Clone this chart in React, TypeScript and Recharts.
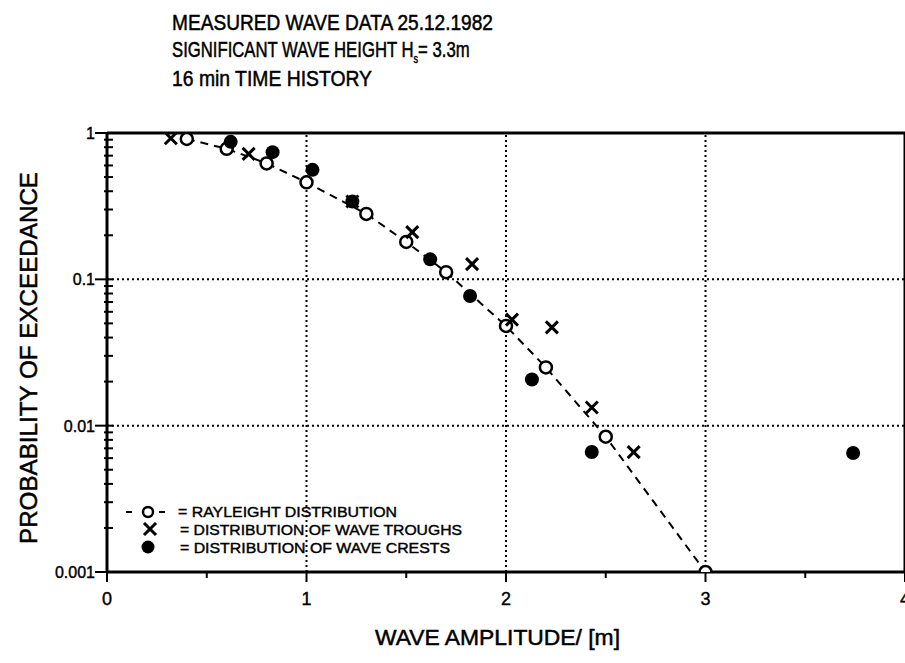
import { ScatterChart, Scatter, XAxis, YAxis, ReferenceLine } from 'recharts';

// Rayleigh distribution (open circles, dashed line)
const rayleighAmp = [0.4, 0.6, 0.8, 1.0, 1.3, 1.5, 1.7, 2.0, 2.2, 2.5, 3.0];
const rayleighProb = [0.91, 0.78, 0.62, 0.46, 0.28, 0.18, 0.112, 0.048, 0.025, 0.0084, 0.001];

// wave troughs (crosses)
const troughAmp = [0.32, 0.71, 1.23, 1.53, 1.83, 2.03, 2.23, 2.43, 2.64];
const troughProb = [0.92, 0.72, 0.34, 0.21, 0.127, 0.053, 0.047, 0.0133, 0.0066];

// wave crests (filled dots)
const crestAmp = [0.62, 0.83, 1.03, 1.23, 1.62, 1.82, 2.13, 2.43, 3.74];
const crestProb = [0.87, 0.74, 0.56, 0.34, 0.137, 0.077, 0.0207, 0.0066, 0.0065];

const xTicks = [0, 0.5, 1, 1.5, 2, 2.5, 3, 3.5, 4];
const xMajor = [0, 1, 2, 3, 4];
const yTicks = [
  0.001, 0.002, 0.003, 0.004, 0.005, 0.006, 0.007, 0.008, 0.009,
  0.01, 0.02, 0.03, 0.04, 0.05, 0.06, 0.07, 0.08, 0.09,
  0.1, 0.2, 0.3, 0.4, 0.5, 0.6, 0.7, 0.8, 0.9, 1,
];
const yMajor = [0.001, 0.01, 0.1, 1];
const yLabels = ['0.001', '0.01', '0.1', '1'];
const xGrid = [1, 2, 3];
const yGrid = [0.01, 0.1];

const toPoints = (xs: number[], ys: number[]) => xs.map((x, i) => ({ x, y: ys[i] }));
const rayleigh = toPoints(rayleighAmp, rayleighProb);
const troughs = toPoints(troughAmp, troughProb);
const crests = toPoints(crestAmp, crestProb);

const FONT = '"Liberation Sans", Arial, sans-serif';

const OpenCircle = (p: any) => (
  <circle cx={p.cx} cy={p.cy} r={6} fill="#fff" stroke="#000" strokeWidth={2.5} />
);
const Cross = (p: any) => (
  <g stroke="#000" strokeWidth={3}>
    <line x1={p.cx - 6} y1={p.cy - 6} x2={p.cx + 6} y2={p.cy + 6} />
    <line x1={p.cx - 6} y1={p.cy + 6} x2={p.cx + 6} y2={p.cy - 6} />
  </g>
);
const Dot = (p: any) => <circle cx={p.cx} cy={p.cy} r={7} fill="#000" />;

const LeftTick = ({ x, y, payload }: any) => {
  const idx = yMajor.indexOf(payload.value);
  const major = idx >= 0;
  return (
    <g>
      <line x1={x - (major ? 12 : 3)} x2={x + 6} y1={y} y2={y} stroke="#000" strokeWidth={2} />
      {major && (
        <text
          x={x - 12}
          y={y + 6}
          textAnchor="end"
          fontSize={16}
          fontFamily={FONT}
          fill="#000"
          stroke="#000"
          strokeWidth={0.4}
        >
          {yLabels[idx]}
        </text>
      )}
    </g>
  );
};

const BottomTick = ({ x, y, payload }: any) => {
  const major = xMajor.includes(payload.value);
  return (
    <g>
      <line x1={x} x2={x} y1={y} y2={y + (major ? 10 : 6)} stroke="#000" strokeWidth={2} />
      {major && (
        <text
          x={x}
          y={y + 33}
          textAnchor="middle"
          fontSize={18}
          fontFamily={FONT}
          fill="#000"
          stroke="#000"
          strokeWidth={0.4}
        >
          {payload.value}
        </text>
      )}
    </g>
  );
};

export default function App() {
  return (
    <div style={{ position: 'absolute', left: 0, top: 0, width: 905, height: 663, background: '#fff' }}>
      <ScatterChart width={905} height={663} margin={{ top: 133, right: 0, bottom: 0, left: 0 }}>
        <XAxis
          dataKey="x"
          type="number"
          domain={[0, 4]}
          ticks={xTicks}
          interval={0}
          height={91}
          axisLine={{ stroke: '#000', strokeWidth: 3 }}
          tickLine={false}
          tickSize={0}
          tickMargin={0}
          tick={<BottomTick />}
          allowDataOverflow
        />
        <XAxis
          xAxisId="top"
          orientation="top"
          type="number"
          domain={[0, 4]}
          ticks={xTicks}
          interval={0}
          height={1}
          mirror
          axisLine={{ stroke: '#000', strokeWidth: 3 }}
          tickLine={{ stroke: '#000', strokeWidth: 2 }}
          tickSize={6}
          tick={false}
          allowDataOverflow
        />
        <YAxis
          dataKey="y"
          type="number"
          scale="log"
          domain={[0.001, 1]}
          ticks={yTicks}
          interval={0}
          width={107}
          axisLine={{ stroke: '#000', strokeWidth: 3 }}
          tickLine={false}
          tickSize={0}
          tickMargin={0}
          tick={<LeftTick />}
          allowDataOverflow
        />
        <YAxis
          yAxisId="right"
          orientation="right"
          type="number"
          scale="log"
          domain={[0.001, 1]}
          ticks={yTicks}
          interval={0}
          width={2}
          mirror
          axisLine={{ stroke: '#000', strokeWidth: 3 }}
          tickLine={{ stroke: '#000', strokeWidth: 2 }}
          tickSize={5}
          tick={false}
          allowDataOverflow
        />
        {xGrid.map((v) => (
          <ReferenceLine key={`gx${v}`} x={v} stroke="#000" strokeWidth={2} strokeDasharray="2 3" />
        ))}
        {yGrid.map((v) => (
          <ReferenceLine key={`gy${v}`} y={v} stroke="#000" strokeWidth={2} strokeDasharray="2 3" />
        ))}
        <Scatter
          data={rayleigh}
          line={{ stroke: '#000', strokeWidth: 2, strokeDasharray: '8 6' }}
          lineType="joint"
          shape={OpenCircle}
          isAnimationActive={false}
        />
        <Scatter data={troughs} shape={Cross} isAnimationActive={false} />
        <Scatter data={crests} shape={Dot} isAnimationActive={false} />
      </ScatterChart>

      <svg
        width={905}
        height={663}
        style={{ position: 'absolute', left: 0, top: 0, pointerEvents: 'none' }}
        fontFamily={FONT}
        fill="#000"
      >
        <g stroke="#000" strokeWidth={0.5}>
          <text x={172} y={30} fontSize={22} textLength={321} lengthAdjust="spacingAndGlyphs">
            MEASURED WAVE DATA 25.12.1982
          </text>
          {/* condensed by scaling the group, subscript s in a tspan */}
          <g transform="translate(172, 57) scale(0.76, 1)">
            <text x={0} y={0} fontSize={22}>
              SIGNIFICANT WAVE HEIGHT H
              <tspan dy={6} fontSize={12}>s</tspan>
              <tspan dy={-6}>= 3.3m</tspan>
            </text>
          </g>
          <text x={172} y={86} fontSize={22} textLength={200} lengthAdjust="spacingAndGlyphs">
            16 min TIME HISTORY
          </text>

          <text x={375} y={645} fontSize={22} textLength={245} lengthAdjust="spacingAndGlyphs">
            WAVE AMPLITUDE/ [m]
          </text>
          <text
            transform="translate(37, 358) rotate(-90)"
            x={0}
            y={0}
            fontSize={24}
            textAnchor="middle"
            textLength={372}
            lengthAdjust="spacingAndGlyphs"
          >
            PROBABILITY OF EXCEEDANCE
          </text>
        </g>

        {/* legend */}
        <line x1={126} x2={132} y1={512} y2={512} stroke="#000" strokeWidth={2} />
        <circle cx={148} cy={512} r={5} fill="#fff" stroke="#000" strokeWidth={2.5} />
        <line x1={159} x2={165} y1={512} y2={512} stroke="#000" strokeWidth={2} />
        <g stroke="#000" strokeWidth={3}>
          <line x1={144} y1={523} x2={156} y2={535} />
          <line x1={144} y1={535} x2={156} y2={523} />
        </g>
        <circle cx={148} cy={547} r={6.5} fill="#000" />
        <g stroke="#000" strokeWidth={0.4}>
          <text x={178} y={517} fontSize={14} textLength={219} lengthAdjust="spacingAndGlyphs">
            = RAYLEIGHT DISTRIBUTION
          </text>
          <text x={180} y={535} fontSize={14} textLength={282} lengthAdjust="spacingAndGlyphs">
            = DISTRIBUTION OF WAVE TROUGHS
          </text>
          <text x={180} y={553} fontSize={14} textLength={270} lengthAdjust="spacingAndGlyphs">
            = DISTRIBUTION OF WAVE CRESTS
          </text>
        </g>
      </svg>
    </div>
  );
}
